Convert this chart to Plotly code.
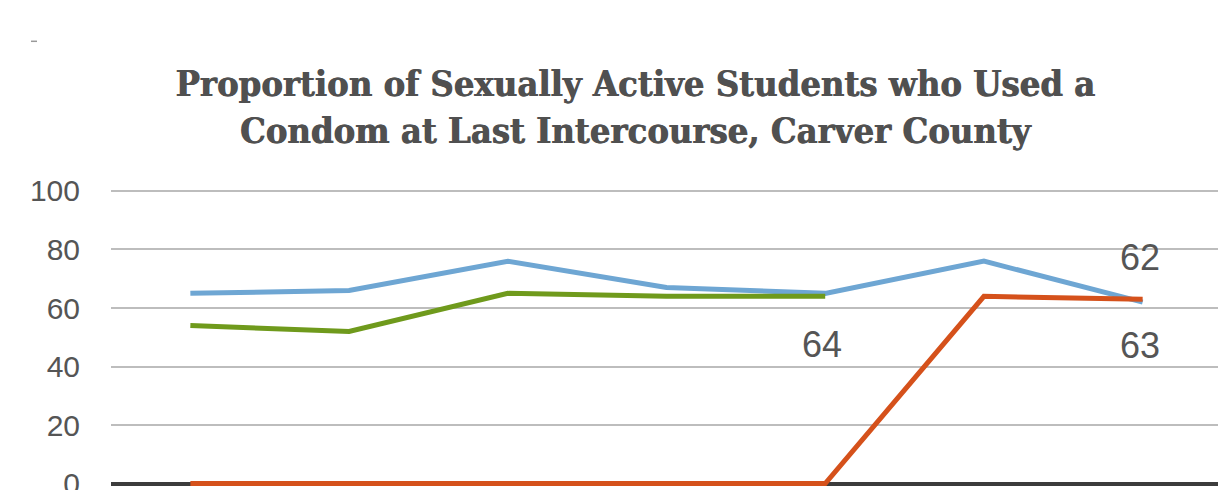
import plotly.graph_objects as go

# ---- data ----
categories = ["A", "B", "C", "D", "E", "F", "G"]
blue_values = [65, 66, 76, 67, 65, 76, 62]
green_values = [54, 52, 65, 64, 64, None, None]
orange_values = [0, 0, 0, 0, 0, 64, 63]
y_ticks = [0, 20, 40, 60, 80, 100]

title_text = ("Proportion of Sexually Active Students who Used a<br>"
              "Condom at Last Intercourse, Carver County")

# data labels: (category index, series values, shift in px)
labels = [
    (4, green_values, -48),
    (6, blue_values, 45),
    (6, orange_values, -46),
]

BLUE = "#6ea6d3"
GREEN = "#6f9a1c"
ORANGE = "#d5511b"
TEXT = "#555555"

fig = go.Figure()
fig.add_trace(go.Scatter(x=categories, y=blue_values, mode="lines",
                         line=dict(color=BLUE, width=5), name="Series 1"))
fig.add_trace(go.Scatter(x=categories, y=green_values, mode="lines",
                         line=dict(color=GREEN, width=5), name="Series 2"))
fig.add_trace(go.Scatter(x=categories, y=orange_values, mode="lines",
                         line=dict(color=ORANGE, width=5), name="Series 3"))

for idx, series, shift in labels:
    fig.add_annotation(x=categories[idx], y=series[idx], xref="x", yref="y",
                       text=str(series[idx]), showarrow=False, yshift=shift,
                       xshift=-3,
                       font=dict(family="Liberation Sans, Arial, sans-serif",
                                 size=36, color=TEXT))

# small stray mark at top left of the reference
fig.add_shape(type="line", xref="paper", yref="paper",
              x0=-0.072, x1=-0.0666, y0=1.489, y1=1.489,
              line=dict(color="#999999", width=1.5))

fig.update_layout(
    width=1218, height=482,
    margin=dict(l=103, r=4, t=180, b=2, autoexpand=False),
    paper_bgcolor="white", plot_bgcolor="white",
    showlegend=False,
    title=dict(text=title_text, x=0.5148, xanchor="center",
               y=0.8174, yanchor="middle",
               font=dict(family="DejaVu Serif Condensed, DejaVu Serif, serif",
                         size=36, color="#505050", weight="bold",
                         shadow="0.8px 0px 0px #505050")),
    xaxis=dict(type="category", range=[-0.5, 6.5], showticklabels=False,
               showgrid=False, zeroline=False, showline=False, ticks=""),
    yaxis=dict(range=[-1.5, 101], tickvals=y_ticks,
               showgrid=True, gridcolor="#bdbdbd", gridwidth=2,
               zeroline=True, zerolinecolor="#3c3c3c", zerolinewidth=4,
               showline=False, ticks="", ticklabelstandoff=30,
               ticklabeloverflow="allow",
               tickfont=dict(family="Liberation Sans, Arial, sans-serif",
                             size=30, color=TEXT)),
)

fig.write_html("out.html")
